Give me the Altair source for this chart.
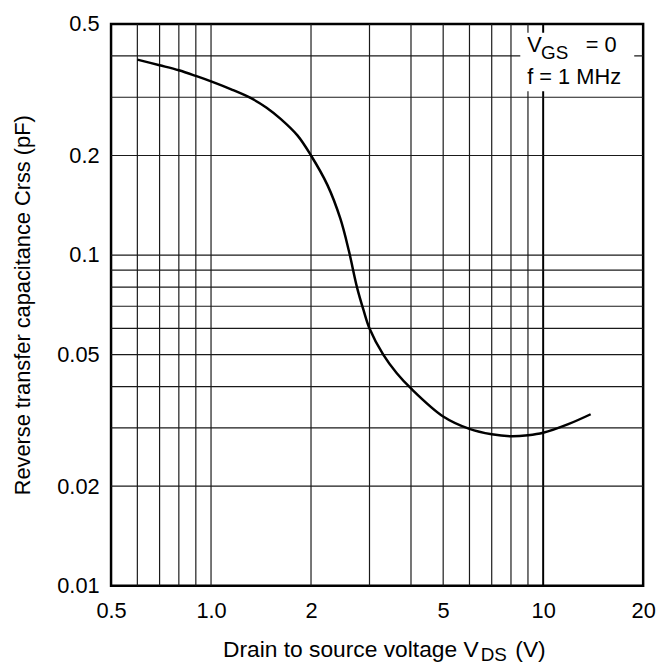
import altair as alt
import pandas as pd

# Curve (V_DS in V, Crss in pF)
vds = [0.6, 0.7, 0.8, 0.9, 1.0, 1.15, 1.32, 1.47, 1.62, 1.82, 2.0, 2.24, 2.45, 2.6,
       2.75, 2.88, 3.0, 3.3, 3.62, 4.0, 5.0, 6.0, 7.0, 8.0, 9.0, 10.0, 11.9, 13.9]
crss = [0.39, 0.375, 0.362, 0.348, 0.335, 0.317, 0.298, 0.279, 0.258, 0.23, 0.2, 0.163,
        0.129, 0.103, 0.08, 0.068, 0.06, 0.05, 0.044, 0.0395, 0.0325, 0.0298,
        0.0287, 0.0283, 0.0285, 0.029, 0.0308, 0.033]

x_grid = [0.6, 0.7, 0.8, 0.9, 1.0, 2, 3, 4, 5, 6, 7, 8, 9]
x_grid_bold = [10]
y_grid = [0.02, 0.03, 0.04, 0.05, 0.06, 0.07, 0.08, 0.09, 0.1, 0.2, 0.3, 0.4]
x_ticks = [0.5, 1, 2, 5, 10, 20]
y_ticks = [0.01, 0.02, 0.05, 0.1, 0.2, 0.5]

FONT = "Liberation Sans"
W, H = 537, 567

xs = alt.Scale(type="log", domain=[0.5, 20], nice=False)
ys = alt.Scale(type="log", domain=[0.01, 0.5], nice=False)

x_axis = alt.Axis(
    values=x_ticks, format="~g", labelExpr="datum.value == 1 ? '1.0' : datum.label",
    grid=False, ticks=False, tickSize=0, domain=False, labelFlush=False,
    labelFont=FONT, labelFontSize=22, labelColor="black", labelPadding=15,
    title=None)
y_axis = alt.Axis(
    values=y_ticks, format="~g", grid=False, ticks=False, tickSize=0,
    domain=False, labelFlush=False,
    labelFont=FONT, labelFontSize=22, labelColor="black", labelPadding=12,
    title="Reverse transfer capacitance Crss (pF)", titleFont=FONT,
    titleFontSize=22, titleFontWeight="normal", titleColor="black",
    titlePadding=22)

curve_df = pd.DataFrame({"vds": vds, "crss": crss})

grid_v = alt.Chart(pd.DataFrame({"vds": x_grid})).mark_rule(
    color="#1a1a1a", strokeWidth=1.2
).encode(x=alt.X("vds:Q", scale=xs, axis=x_axis))

grid_vb = alt.Chart(pd.DataFrame({"vds": x_grid_bold})).mark_rule(
    color="#000000", strokeWidth=2
).encode(x=alt.X("vds:Q", scale=xs, axis=x_axis))

grid_h = alt.Chart(pd.DataFrame({"crss": y_grid})).mark_rule(
    color="#1a1a1a", strokeWidth=1.2
).encode(y=alt.Y("crss:Q", scale=ys, axis=y_axis))

line = alt.Chart(curve_df).mark_line(
    color="black", strokeWidth=2.5, interpolate="catmull-rom"
).encode(
    x=alt.X("vds:Q", scale=xs, axis=x_axis),
    y=alt.Y("crss:Q", scale=ys, axis=y_axis),
)

# legend box (white) with condition text
box = alt.Chart(pd.DataFrame({"k": [0]})).mark_rect(color="white").encode(
    x=alt.value(413), x2=alt.value(528), y=alt.value(9), y2=alt.value(68)
)

def txt(s, x, y, size, align="left"):
    return alt.Chart(pd.DataFrame({"t": [s]})).mark_text(
        font=FONT, fontSize=size, color="black", align=align, baseline="alphabetic"
    ).encode(text="t:N", x=alt.value(x), y=alt.value(y))

legend_txt = [
    txt("V", 420, 28, 22),
    txt("GS", 434, 35, 19),
    txt("= 0", 479, 28, 22),
    txt("f = 1 MHz", 420, 61, 22),
]

xtitle = [
    txt("Drain to source voltage V", 371, 639, 23, align="right"),
    txt("DS", 373, 643, 19),
    txt("(V)", 408, 639, 23),
]

chart = alt.layer(
    grid_v, grid_vb, grid_h, line, box, *legend_txt, *xtitle
).properties(
    width=W, height=H,
    autosize=alt.AutoSizeParams(type="none"),
    padding={"left": 104, "top": 13, "right": 16, "bottom": 80},
).configure(
    background="white"
).configure_view(
    stroke="black", strokeWidth=2.5
)

chart.save("out.html", embed_options={"renderer": "svg", "actions": False})
